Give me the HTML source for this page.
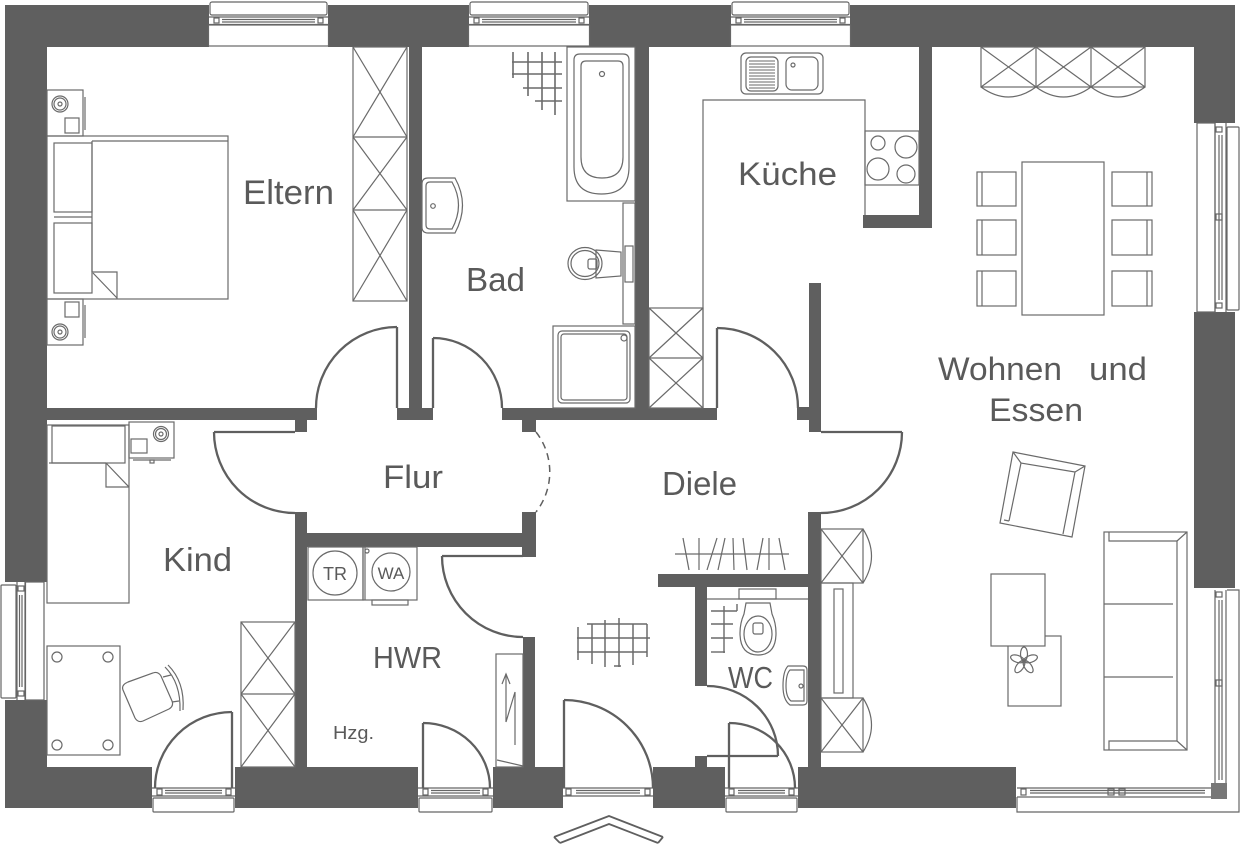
<!DOCTYPE html>
<html><head><meta charset="utf-8"><style>
html,body{margin:0;padding:0;background:#fff;}
svg{display:block;}
text{font-family:"Liberation Sans",sans-serif;fill:#5a5a5a;}
</style></head><body>
<svg width="1241" height="845" viewBox="0 0 1241 845" xmlns="http://www.w3.org/2000/svg">
<rect width="1241" height="845" fill="#fff"/>
<!-- WALLS -->
<g fill="#5f5f5f">
<rect x="5" y="5" width="1230" height="42"/>
<rect x="5" y="5" width="42" height="803"/>
<rect x="1194" y="5" width="41" height="583"/>
<rect x="5" y="767" width="147" height="41"/>
<rect x="235" y="767" width="183" height="41"/>
<rect x="493" y="767" width="70" height="41"/>
<rect x="653" y="767" width="72" height="41"/>
<rect x="798" y="767" width="218" height="41"/>
<rect x="409" y="47" width="13" height="373"/>
<rect x="397" y="408" width="36" height="12"/>
<rect x="47" y="408" width="270" height="12"/>
<rect x="295" y="420" width="12" height="12"/>
<rect x="502" y="408" width="215" height="12"/>
<rect x="522" y="420" width="14" height="12"/>
<rect x="635" y="47" width="14" height="373"/>
<rect x="797" y="407" width="24" height="13"/>
<rect x="809" y="283" width="12" height="149"/>
<rect x="919" y="47" width="13" height="181"/>
<rect x="863" y="215" width="69" height="13"/>
<rect x="295" y="512" width="12" height="255"/>
<rect x="307" y="533" width="229" height="14"/>
<rect x="522" y="512" width="14" height="45"/>
<rect x="523" y="637" width="12" height="130"/>
<rect x="808" y="512" width="13" height="255"/>
<rect x="658" y="574" width="163" height="13"/>
<rect x="695" y="587" width="12" height="99"/>
<rect x="695" y="756" width="12" height="11"/>
</g>

<!-- WINDOWS -->
<g fill="#fff" stroke="none">
<rect x="209" y="0" width="119" height="47"/>
<rect x="469" y="0" width="120" height="47"/>
<rect x="731" y="0" width="119" height="47"/>
<rect x="152" y="767" width="83" height="47"/>
<rect x="418" y="767" width="75" height="47"/>
<rect x="563" y="767" width="90" height="47"/>
<rect x="725" y="767" width="73" height="47"/>
<rect x="0" y="582" width="47" height="118"/>
<rect x="1194" y="123" width="47" height="189"/>
<rect x="1194" y="588" width="47" height="226"/>
<rect x="1016" y="767" width="225" height="47"/>
</g>
<g fill="none" stroke="#666" stroke-width="1.2">
<!-- top windows -->
<rect x="210" y="2" width="117" height="13" rx="2"/>
<line x1="209" y1="17" x2="328" y2="17"/><line x1="209" y1="24.5" x2="328" y2="24.5"/>
<line x1="222" y1="19.5" x2="315" y2="19.5"/><line x1="222" y1="22" x2="315" y2="22"/>
<rect x="214" y="18" width="5" height="5"/><rect x="318" y="18" width="5" height="5"/>
<rect x="208.5" y="25" width="120" height="21"/>

<rect x="470" y="2" width="118" height="13" rx="2"/>
<line x1="469" y1="17" x2="589" y2="17"/><line x1="469" y1="24.5" x2="589" y2="24.5"/>
<line x1="482" y1="19.5" x2="576" y2="19.5"/><line x1="482" y1="22" x2="576" y2="22"/>
<rect x="474" y="18" width="5" height="5"/><rect x="579" y="18" width="5" height="5"/>
<rect x="468.5" y="25" width="121" height="21"/>

<rect x="732" y="2" width="117" height="13" rx="2"/>
<line x1="731" y1="17" x2="850" y2="17"/><line x1="731" y1="24.5" x2="850" y2="24.5"/>
<line x1="744" y1="19.5" x2="837" y2="19.5"/><line x1="744" y1="22" x2="837" y2="22"/>
<rect x="736" y="18" width="5" height="5"/><rect x="840" y="18" width="5" height="5"/>
<rect x="730.5" y="25" width="120" height="21"/>

<!-- bottom windows -->
<line x1="152" y1="788" x2="235" y2="788"/><line x1="152" y1="796" x2="235" y2="796"/>
<line x1="165" y1="790.5" x2="222" y2="790.5"/><line x1="165" y1="793" x2="222" y2="793"/>
<rect x="157" y="789" width="5" height="6"/><rect x="226" y="789" width="5" height="6"/>
<rect x="153" y="798" width="81" height="14" rx="1"/>

<line x1="418" y1="788" x2="493" y2="788"/><line x1="418" y1="796" x2="493" y2="796"/>
<line x1="431" y1="790.5" x2="480" y2="790.5"/><line x1="431" y1="793" x2="480" y2="793"/>
<rect x="423" y="789" width="5" height="6"/><rect x="483" y="789" width="5" height="6"/>
<rect x="419" y="798" width="73" height="14" rx="1"/>

<line x1="563" y1="788" x2="653" y2="788"/><line x1="563" y1="796" x2="653" y2="796"/>
<line x1="576" y1="790.5" x2="640" y2="790.5"/><line x1="576" y1="793" x2="640" y2="793"/>
<rect x="566" y="789" width="5" height="6"/><rect x="645" y="789" width="5" height="6"/>

<line x1="725" y1="788" x2="798" y2="788"/><line x1="725" y1="796" x2="798" y2="796"/>
<line x1="738" y1="790.5" x2="785" y2="790.5"/><line x1="738" y1="793" x2="785" y2="793"/>
<rect x="729" y="789" width="5" height="6"/><rect x="789" y="789" width="5" height="6"/>
<rect x="726" y="798" width="71" height="14" rx="1"/>

<!-- left window -->
<rect x="1" y="585" width="15" height="113" rx="1"/>
<line x1="17" y1="582" x2="17" y2="700"/><line x1="25" y1="582" x2="25" y2="700"/>
<line x1="19.5" y1="595" x2="19.5" y2="687"/><line x1="22" y1="595" x2="22" y2="687"/>
<rect x="18" y="586" width="6" height="5"/><rect x="18" y="691" width="6" height="5"/>
<rect x="25.5" y="582" width="18.5" height="118"/>

<!-- right window -->
<rect x="1197" y="123" width="18" height="189"/>
<line x1="1215" y1="123" x2="1215" y2="312"/><line x1="1226" y1="123" x2="1226" y2="312"/>
<line x1="1219" y1="135" x2="1219" y2="300"/><line x1="1222" y1="135" x2="1222" y2="300"/>
<rect x="1216" y="127" width="6" height="5"/><rect x="1216" y="214" width="6" height="6"/><rect x="1216" y="303" width="6" height="5"/>
<rect x="1227" y="127" width="12" height="183" rx="1"/>

<!-- corner window -->
<line x1="1215" y1="590" x2="1215" y2="788"/><line x1="1226" y1="590" x2="1226" y2="797"/>
<line x1="1219" y1="600" x2="1219" y2="780"/><line x1="1222" y1="600" x2="1222" y2="780"/>
<rect x="1216" y="592" width="6" height="5"/><rect x="1216" y="680" width="6" height="6"/>
<line x1="1017" y1="788" x2="1215" y2="788"/><line x1="1017" y1="797" x2="1226" y2="797"/>
<line x1="1030" y1="790.5" x2="1205" y2="790.5"/><line x1="1030" y1="793" x2="1205" y2="793"/>
<rect x="1021" y="789" width="5" height="6"/><rect x="1108" y="789" width="6" height="6"/><rect x="1119" y="789" width="6" height="6"/>
<polyline points="1017,797 1017,812 1239,812 1239,590 1227,590"/>
</g>
<rect x="1211" y="783" width="16" height="16" fill="#777"/>

<!-- FURNITURE -->
<g fill="none" stroke="#6a6a6a" stroke-width="1.2">
<!-- Eltern -->
<rect x="47" y="90" width="36" height="46"/>
<circle cx="60" cy="104" r="8"/><circle cx="60" cy="104" r="6"/><circle cx="60" cy="104" r="2"/>
<rect x="65" y="118" width="14" height="15"/>
<line x1="85" y1="97" x2="85" y2="130"/>
<rect x="47" y="136" width="181" height="163"/>
<line x1="92" y1="141" x2="228" y2="141"/>
<rect x="54" y="143" width="38" height="69"/>
<rect x="54" y="223" width="38" height="70"/>
<line x1="54" y1="217" x2="92" y2="217"/>
<line x1="92" y1="141" x2="92" y2="272"/>
<polyline points="92,272 117,272 117,299"/>
<line x1="93" y1="273" x2="117" y2="298"/>
<rect x="47" y="299" width="36" height="46"/>
<rect x="65" y="302" width="14" height="15"/>
<circle cx="60" cy="332" r="8"/><circle cx="60" cy="332" r="6"/><circle cx="60" cy="332" r="2"/>
<line x1="85" y1="305" x2="85" y2="338"/>
<rect x="353" y="47" width="54" height="254"/>
<line x1="353" y1="137" x2="407" y2="137"/><line x1="353" y1="210" x2="407" y2="210"/>
<line x1="353" y1="47" x2="407" y2="137"/><line x1="407" y1="47" x2="353" y2="137"/>
<line x1="353" y1="137" x2="407" y2="210"/><line x1="407" y1="137" x2="353" y2="210"/>
<line x1="353" y1="210" x2="407" y2="301"/><line x1="407" y1="210" x2="353" y2="301"/>

<!-- Bad -->
<g stroke-width="1.6">
<line x1="512" y1="62" x2="562" y2="62"/><line x1="512" y1="74" x2="562" y2="74"/>
<line x1="523" y1="88" x2="562" y2="88"/><line x1="535" y1="101" x2="562" y2="101"/>
<line x1="513" y1="52" x2="513" y2="78"/><line x1="528" y1="52" x2="528" y2="96"/>
<line x1="542" y1="52" x2="542" y2="110"/><line x1="555" y1="52" x2="555" y2="115"/>
</g>
<rect x="567" y="47" width="68" height="154"/>
<path d="M580,54 L623,54 Q629,54 629,60 L629,167 Q629,194 601.5,194 Q574,194 574,167 L574,60 Q574,54 580,54 Z"/>
<path d="M586,61 L618,61 Q623,61 623,66 L623,157 Q623,178 602,178 Q581,178 581,157 L581,66 Q581,61 586,61 Z"/>
<circle cx="602" cy="74" r="2.5"/>
<path d="M428,178 L455,178 Q470,205 455,233 L428,233 Q422,233 422,227 L422,184 Q422,178 428,178 Z"/>
<path d="M430,182 L452,182 Q465,205 452,229 L430,229 Q426,229 426,225 L426,186 Q426,182 430,182 Z"/>
<circle cx="433" cy="206" r="2.3"/>
<ellipse cx="585" cy="263.5" rx="17" ry="16"/>
<ellipse cx="585" cy="263.5" rx="14" ry="13"/>
<polygon points="596,250 621,252 621,276 596,278"/>
<rect x="588" y="259" width="9" height="10" rx="2"/>
<rect x="623" y="203" width="12" height="121"/>
<rect x="625" y="246" width="8" height="36"/>
<rect x="553" y="326" width="82" height="82"/>
<rect x="558" y="331" width="72" height="72" rx="4"/>
<rect x="561" y="334" width="66" height="66" rx="3"/>
<circle cx="624" cy="338" r="3"/>

<!-- Kueche -->
<rect x="741" y="53" width="82" height="41" rx="5"/>
<rect x="746" y="57" width="32" height="34" rx="5"/>
<rect x="786" y="57" width="32" height="33" rx="6"/>
<circle cx="793" cy="65" r="2"/>
<g stroke-width="1">
<line x1="749" y1="61" x2="775" y2="61"/><line x1="749" y1="64" x2="775" y2="64"/><line x1="749" y1="67" x2="775" y2="67"/>
<line x1="749" y1="70" x2="775" y2="70"/><line x1="749" y1="73" x2="775" y2="73"/><line x1="749" y1="76" x2="775" y2="76"/>
<line x1="749" y1="79" x2="775" y2="79"/><line x1="749" y1="82" x2="775" y2="82"/><line x1="749" y1="85" x2="775" y2="85"/>
<line x1="749" y1="88" x2="775" y2="88"/>
</g>
<polyline points="703,408 703,100 865,100 865,215"/>
<rect x="865" y="131" width="54" height="54"/>
<circle cx="878" cy="143" r="7"/><circle cx="906" cy="147" r="11"/>
<circle cx="878" cy="169" r="11"/><circle cx="906" cy="174" r="9"/>
<rect x="649" y="308" width="54" height="100"/>
<line x1="649" y1="358" x2="703" y2="358"/>
<line x1="649" y1="308" x2="703" y2="358"/><line x1="703" y1="308" x2="649" y2="358"/>
<line x1="649" y1="358" x2="703" y2="408"/><line x1="703" y1="358" x2="649" y2="408"/>

<!-- Wohnen -->
<rect x="981" y="47" width="164" height="40"/>
<line x1="1036" y1="47" x2="1036" y2="87"/><line x1="1091" y1="47" x2="1091" y2="87"/>
<line x1="981" y1="47" x2="1036" y2="87"/><line x1="1036" y1="47" x2="981" y2="87"/>
<line x1="1036" y1="47" x2="1091" y2="87"/><line x1="1091" y1="47" x2="1036" y2="87"/>
<line x1="1091" y1="47" x2="1145" y2="87"/><line x1="1145" y1="47" x2="1091" y2="87"/>
<path d="M981,87 Q1008.5,107 1036,87 Q1063.5,107 1091,87 Q1118,107 1145,87"/>
<rect x="1022" y="162" width="82" height="153"/>
<rect x="977" y="172" width="39" height="34"/><line x1="982" y1="172" x2="982" y2="206"/>
<rect x="977" y="220" width="39" height="35"/><line x1="982" y1="220" x2="982" y2="255"/>
<rect x="977" y="271" width="39" height="35"/><line x1="982" y1="271" x2="982" y2="306"/>
<rect x="1112" y="172" width="40" height="34"/><line x1="1147" y1="172" x2="1147" y2="206"/>
<rect x="1112" y="220" width="40" height="35"/><line x1="1147" y1="220" x2="1147" y2="255"/>
<rect x="1112" y="271" width="40" height="35"/><line x1="1147" y1="271" x2="1147" y2="306"/>
<polygon points="1013,452 1085,466 1072,537 1000,523"/>
<polyline points="1009,521 1021,463 1075,472 1063,534"/>
<line x1="1013" y1="452" x2="1021" y2="463"/><line x1="1085" y1="466" x2="1075" y2="472"/>
<line x1="1009" y1="521" x2="1004" y2="520"/>
<rect x="1008" y="636" width="53" height="70"/>
<rect x="991" y="574" width="54" height="72" fill="#fff"/>
<g transform="translate(1024,661)">
<ellipse cx="0" cy="-7" rx="3.5" ry="7"/>
<ellipse cx="0" cy="-7" rx="3.5" ry="7" transform="rotate(72)"/>
<ellipse cx="0" cy="-7" rx="3.5" ry="7" transform="rotate(144)"/>
<ellipse cx="0" cy="-7" rx="3.5" ry="7" transform="rotate(216)"/>
<ellipse cx="0" cy="-7" rx="3.5" ry="7" transform="rotate(288)"/>
<circle cx="0" cy="0" r="2"/>
</g>
<rect x="1104" y="532" width="83" height="218"/>
<polyline points="1109,532 1109,541 1177,541 1177,741 1109,741 1109,750"/>
<line x1="1187" y1="532" x2="1177" y2="541"/><line x1="1187" y1="750" x2="1177" y2="741"/>
<line x1="1104" y1="604" x2="1173" y2="604"/><line x1="1104" y1="677" x2="1173" y2="677"/>
<rect x="821" y="529" width="42" height="54"/>
<line x1="821" y1="529" x2="863" y2="583"/><line x1="863" y1="529" x2="821" y2="583"/>
<path d="M863,529 Q880,556 863,583"/>
<rect x="821" y="583" width="32" height="115"/>
<rect x="834" y="589" width="9" height="104"/>
<rect x="821" y="698" width="42" height="54"/>
<line x1="821" y1="698" x2="863" y2="752"/><line x1="863" y1="698" x2="821" y2="752"/>
<path d="M863,698 Q880,725 863,752"/>

<!-- Kind -->
<rect x="47" y="425" width="82" height="178"/>
<rect x="52" y="426" width="73" height="37"/>
<line x1="49" y1="463" x2="106" y2="463"/>
<polyline points="106,463 106,487 129,487"/>
<line x1="106" y1="463" x2="129" y2="487"/>
<rect x="129" y="422" width="45" height="36"/>
<circle cx="161" cy="434" r="7.5"/><circle cx="161" cy="434" r="5.5"/><circle cx="161" cy="434" r="2"/>
<rect x="131" y="439" width="16" height="14"/>
<line x1="133" y1="460" x2="171" y2="460"/>
<rect x="150" y="460" width="4" height="3"/>
<rect x="47" y="646" width="73" height="109"/>
<circle cx="57" cy="657" r="5"/><circle cx="108" cy="657" r="5"/>
<circle cx="57" cy="745" r="5"/><circle cx="108" cy="745" r="5"/>
<path d="M128,682 L153,673 Q158,671 161,676 L172,701 Q174,706 169,709 L143,721 Q138,723 135,718 L123,690 Q121,685 128,682 Z"/>
<path d="M165,667 Q181,683 180,711"/>
<path d="M168,665 Q185,682 183,710"/>
<line x1="163" y1="677" x2="171" y2="675"/><line x1="172" y1="702" x2="179" y2="701"/>
<rect x="241" y="622" width="54" height="145"/>
<line x1="241" y1="694" x2="295" y2="694"/>
<line x1="241" y1="622" x2="295" y2="694"/><line x1="295" y1="622" x2="241" y2="694"/>
<line x1="241" y1="694" x2="295" y2="767"/><line x1="295" y1="694" x2="241" y2="767"/>

<!-- HWR -->
<rect x="308" y="547" width="55" height="53"/>
<circle cx="335" cy="573" r="22"/>
<rect x="363" y="547" width="54" height="53"/>
<line x1="365" y1="547" x2="365" y2="600"/>
<circle cx="391" cy="572" r="19"/>
<circle cx="367" cy="551" r="2"/>
<rect x="372" y="600" width="36" height="5"/>
<rect x="496" y="654" width="27" height="113"/>
<line x1="497" y1="760" x2="523" y2="766"/>
<path d="M506,674 L506,722 L515,692 L515,745"/>
<path d="M502,684 L506,674 L510,684"/>

<!-- Diele -->
<g stroke-width="1.5">
<line x1="587" y1="624" x2="647" y2="624"/><line x1="577" y1="638" x2="650" y2="638"/><line x1="577" y1="652" x2="647" y2="652"/>
<line x1="578" y1="627" x2="578" y2="660"/><line x1="592" y1="624" x2="592" y2="664"/>
<line x1="605" y1="620" x2="605" y2="667"/><line x1="619" y1="618" x2="619" y2="667"/>
<line x1="614" y1="666" x2="621" y2="666"/>
<line x1="633" y1="624" x2="633" y2="665"/><line x1="647" y1="624" x2="647" y2="657"/>
</g>
<line x1="675" y1="554" x2="789" y2="554"/>
<line x1="683" y1="538" x2="689" y2="570"/><line x1="699" y1="538" x2="699" y2="570"/>
<line x1="717" y1="538" x2="707" y2="570"/><line x1="725" y1="538" x2="718" y2="570"/>
<line x1="733" y1="538" x2="734" y2="570"/><line x1="743" y1="538" x2="747" y2="570"/>
<line x1="763" y1="538" x2="757" y2="570"/><line x1="769" y1="538" x2="769" y2="570"/>
<line x1="779" y1="538" x2="785" y2="570"/>

<!-- WC -->
<line x1="707" y1="599" x2="808" y2="599"/>
<rect x="739" y="589" width="37" height="10"/>
<path d="M746,603 L770,603 L772,614 Q776,623 776,633 Q776,655 758,655 Q740,655 740,633 Q740,623 744,614 Z"/>
<ellipse cx="758" cy="634" rx="14" ry="18"/>
<rect x="753" y="623" width="10" height="11" rx="2"/>
<g stroke-width="1.4">
<line x1="711" y1="611" x2="737" y2="611"/><line x1="711" y1="624" x2="733" y2="624"/>
<line x1="711" y1="638" x2="733" y2="638"/><line x1="711" y1="652" x2="725" y2="652"/>
<line x1="724" y1="606" x2="724" y2="653"/><line x1="737" y1="604" x2="737" y2="611"/>
</g>
<path d="M788,666 L803,666 Q807,666 807,670 L807,701 Q807,705 803,705 L790,705 Q783,700 783,686 Q783,671 788,666 Z"/>
<path d="M790,670 L804,670 L804,701 L791,701 Q786,697 786,686 Q786,674 790,670 Z"/>
<circle cx="801" cy="686" r="2"/>
</g>

<!-- DOORS -->
<g fill="none" stroke="#5f5f5f" stroke-width="2.3">
<line x1="397" y1="327" x2="397" y2="408"/>
<path d="M397,327 A81,81 0 0 0 316,408"/>
<line x1="433" y1="338" x2="433" y2="408"/>
<path d="M433,338 A69,70 0 0 1 502,408"/>
<line x1="214" y1="432" x2="295" y2="432"/>
<path d="M214,432 A81,81 0 0 0 295,513"/>
<path d="M536,432 A65,65 0 0 1 536,512" stroke-width="1.5" stroke-dasharray="7,5"/>
<line x1="717" y1="328" x2="717" y2="408"/>
<path d="M717,328 A81,80 0 0 1 798,408"/>
<line x1="821" y1="432" x2="902" y2="432"/>
<path d="M902,432 A81,81 0 0 1 821,513"/>
<line x1="442" y1="556" x2="523" y2="556"/>
<path d="M442,556 A81,81 0 0 0 523,637"/>
<line x1="707" y1="756" x2="778" y2="756"/>
<path d="M707,686 A71,70 0 0 1 778,756"/>
<line x1="232" y1="712" x2="232" y2="788"/>
<path d="M232,712 A77,76 0 0 0 155,788"/>
<line x1="423" y1="723" x2="423" y2="788"/>
<path d="M423,723 A67,65 0 0 1 490,788"/>
<line x1="564" y1="700" x2="564" y2="788"/>
<path d="M564,700 A89,88 0 0 1 653,788"/>
<line x1="729" y1="723" x2="729" y2="788"/>
<path d="M729,723 A66,65 0 0 1 795,788"/>
</g>

<!-- entrance arrow -->
<g fill="none" stroke="#5f5f5f" stroke-width="1.8">
<polyline points="554,837 609,816 663,837"/>
<polyline points="560,843 609,824 658,843"/>
<line x1="554" y1="837" x2="560" y2="843"/><line x1="663" y1="837" x2="658" y2="843"/>
</g>

<!-- TEXT -->
<text x="243" y="204" font-size="34" textLength="91" lengthAdjust="spacingAndGlyphs">Eltern</text>
<text x="466" y="291" font-size="33" textLength="59" lengthAdjust="spacingAndGlyphs">Bad</text>
<text x="738" y="185" font-size="32" textLength="99" lengthAdjust="spacingAndGlyphs">Küche</text>
<text x="938" y="380" font-size="32" textLength="124" lengthAdjust="spacingAndGlyphs">Wohnen</text>
<text x="1089" y="380" font-size="32" textLength="58" lengthAdjust="spacingAndGlyphs">und</text>
<text x="989" y="421" font-size="32" textLength="94" lengthAdjust="spacingAndGlyphs">Essen</text>
<text x="383" y="488" font-size="32" textLength="60" lengthAdjust="spacingAndGlyphs">Flur</text>
<text x="662" y="495" font-size="33" textLength="75" lengthAdjust="spacingAndGlyphs">Diele</text>
<text x="163" y="571" font-size="33" textLength="69" lengthAdjust="spacingAndGlyphs">Kind</text>
<text x="373" y="668" font-size="31" textLength="69" lengthAdjust="spacingAndGlyphs">HWR</text>
<text x="728" y="688" font-size="31" textLength="45" lengthAdjust="spacingAndGlyphs">WC</text>
<text x="333" y="739" font-size="18" textLength="41" lengthAdjust="spacingAndGlyphs">Hzg.</text>
<text x="335" y="580" font-size="18" text-anchor="middle">TR</text>
<text x="391" y="579" font-size="17" text-anchor="middle">WA</text>
</svg>
</body></html>
